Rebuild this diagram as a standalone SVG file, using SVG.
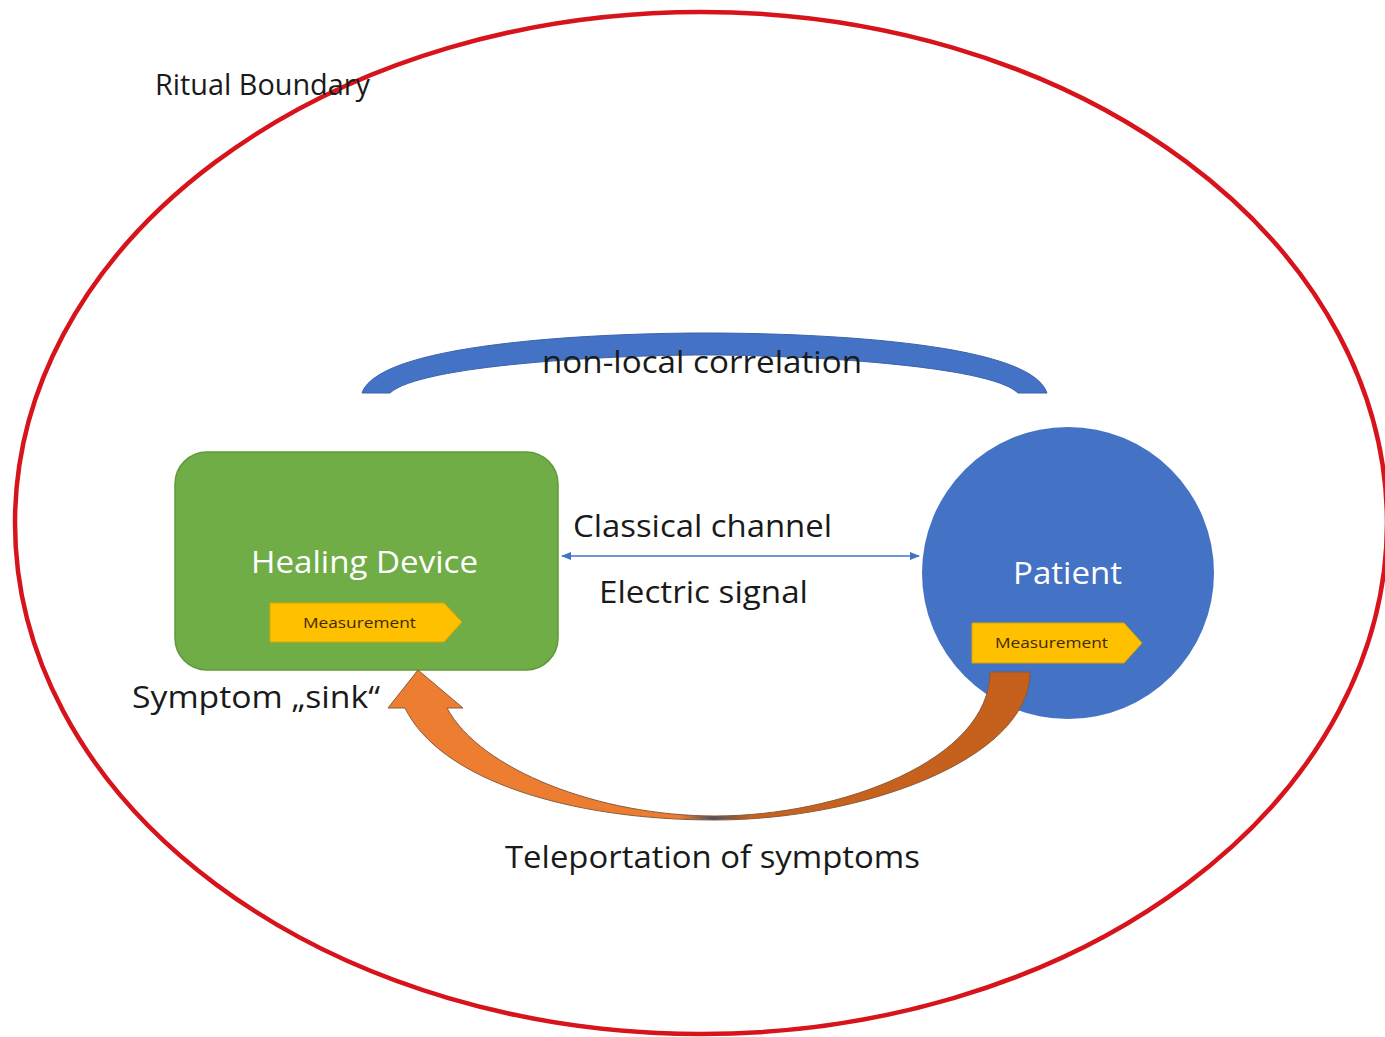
<svg xmlns="http://www.w3.org/2000/svg" width="1385" height="1037" viewBox="0 0 1385 1037">
<style>
.t{font-family:"Open Sans","Liberation Sans",sans-serif;fill:#1a1a1a}
.w{font-family:"Open Sans","Liberation Sans",sans-serif;fill:#ffffff}
.m{font-family:"Open Sans","Liberation Sans",sans-serif;fill:#3d2b00;font-size:15px}
.tag{fill:#ffc000;stroke:#d9a400;stroke-width:1}
</style>
<defs>
<linearGradient id="og" x1="390" y1="0" x2="1035" y2="0" gradientUnits="userSpaceOnUse">
<stop offset="0" stop-color="#ed7d31"/>
<stop offset="0.45" stop-color="#ec7c30"/>
<stop offset="0.5" stop-color="#4a5060"/>
<stop offset="0.56" stop-color="#c7631f"/>
<stop offset="1" stop-color="#c55f1c"/>
</linearGradient>
<marker id="ah" viewBox="0 0 10 10" refX="9" refY="5" markerWidth="7" markerHeight="7" orient="auto-start-reverse">
<path d="M0,1 L10,5 L0,9 Z" fill="#4472c4"/>
</marker>
</defs>
<rect width="1385" height="1037" fill="#ffffff"/>
<g id="boundary">
<ellipse cx="701" cy="523" rx="686" ry="511" fill="none" stroke="#d7141c" stroke-width="4.5"/>
<text class="t" x="155" y="95" font-size="30" textLength="215" lengthAdjust="spacingAndGlyphs">Ritual Boundary</text>
</g>
<g id="correlation">
<path d="M362,393 C380,340 620,333 705,333 C800,333 1030,340 1047,393 L1018,393 C990,365 800,355 705,355 C610,355 420,365 390,393 Z" fill="#4472c4" stroke="#3a63ad" stroke-width="1"/>
<text class="t" x="542" y="373" font-size="31" textLength="320" lengthAdjust="spacingAndGlyphs">non-local correlation</text>
</g>
<g id="healing-device">
<rect x="175" y="452" width="383" height="218" rx="32" fill="#70ad47" stroke="#5e9a3a" stroke-width="1.5"/>
<text class="w" x="251" y="573" font-size="31" textLength="227" lengthAdjust="spacingAndGlyphs">Healing Device</text>
<path class="tag" d="M270,603 L444,603 L462,622 L444,642 L270,642 Z"/>
<text class="m" x="303" y="628" textLength="113" lengthAdjust="spacingAndGlyphs">Measurement</text>
</g>
<g id="patient">
<circle cx="1068" cy="573" r="146" fill="#4472c4"/>
<text class="w" x="1013" y="584" font-size="31" textLength="109" lengthAdjust="spacingAndGlyphs">Patient</text>
<path class="tag" d="M972,623 L1124,623 L1142,643 L1124,663 L972,663 Z"/>
<text class="m" x="995" y="648" textLength="113" lengthAdjust="spacingAndGlyphs">Measurement</text>
</g>
<g id="connectors">
<line x1="562" y1="556" x2="919" y2="556" stroke="#4472c4" stroke-width="1.5" marker-start="url(#ah)" marker-end="url(#ah)"/>
<path d="M1030,672 C1030,760 860,820 715,820 C570,820 440,780 405,708 L388,708 L418,670 L463,708 L447,708 C480,770 600,816 715,816 C840,816 990,760 990,672 Z" fill="url(#og)" stroke="#8a5a3a" stroke-width="1"/>
</g>
<g id="labels">
<text class="t" x="573" y="537" font-size="31" textLength="259" lengthAdjust="spacingAndGlyphs">Classical channel</text>
<text class="t" x="599" y="603" font-size="31" textLength="209" lengthAdjust="spacingAndGlyphs">Electric signal</text>
<text class="t" x="132" y="708" font-size="31" textLength="248" lengthAdjust="spacingAndGlyphs">Symptom „sink“</text>
<text class="t" x="505" y="868" font-size="31" textLength="415" lengthAdjust="spacingAndGlyphs">Teleportation of symptoms</text>
</g>
</svg>
